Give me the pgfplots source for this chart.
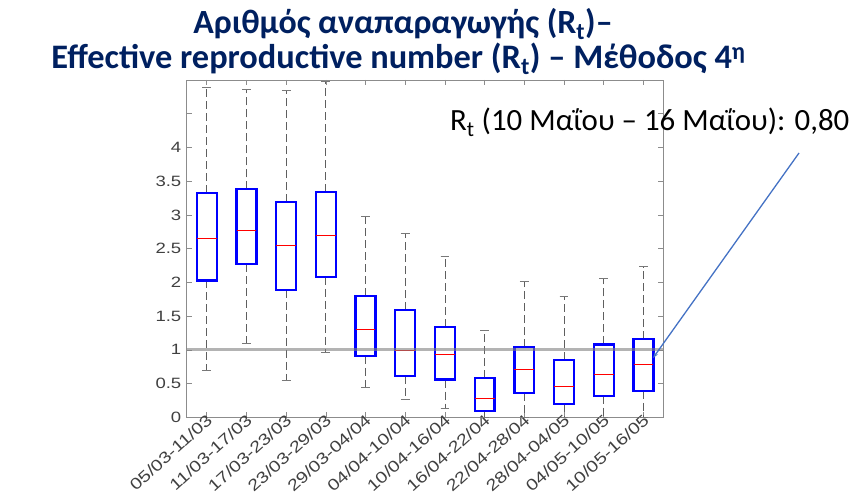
\documentclass[border=0pt]{standalone}
\usepackage{fontspec}
\setmainfont{Carlito}
\newfontfamily\tickfont[FakeStretch=1.24]{Liberation Sans}
\usepackage{pgfplots}
\pgfplotsset{compat=1.18}
\usepgfplotslibrary{statistics}
\usetikzlibrary{arrows.meta}
\definecolor{titleblue}{RGB}{0,32,96}
\definecolor{tickgray}{RGB}{64,64,64}
\definecolor{framegray}{RGB}{140,140,140}
\definecolor{whiskgray}{RGB}{95,95,95}
\definecolor{capgray}{RGB}{120,120,120}
\definecolor{arrowblue}{RGB}{68,114,196}
\pgfplotsset{
  boxplot/draw/whisker/.code 2 args={%
    \draw[/pgfplots/boxplot/every whisker/.try] (boxplot cs:#1) -- (boxplot cs:#2);
    \draw[capgray, line width=0.9bp]
      (boxplot whisker cs:\pgfplotsboxplotvalue{lower whisker},0) -- (boxplot whisker cs:\pgfplotsboxplotvalue{lower whisker},1)
      (boxplot whisker cs:\pgfplotsboxplotvalue{upper whisker},0) -- (boxplot whisker cs:\pgfplotsboxplotvalue{upper whisker},1);
  },
}
\begin{document}
\begin{tikzpicture}
\path[use as bounding box] (0bp,0bp) rectangle (858bp,494bp);
\begin{axis}[
  at={(186.5bp,76.7bp)}, anchor=south west,
  scale only axis, width=476.8bp, height=337.3bp,
  xmin=0.49, xmax=12.5, ymin=0, ymax=5,
  axis line style={framegray, line width=0.7bp},
  tick style={framegray, line width=0.6bp},
  tick align=inside, major tick length=5bp,
  xtick={1,...,12},
  xticklabels={05/03-11/03,11/03-17/03,17/03-23/03,23/03-29/03,29/03-04/04,04/04-10/04,10/04-16/04,16/04-22/04,22/04-28/04,28/04-04/05,04/05-10/05,10/05-16/05},
  ytick={0,0.5,...,5},
  yticklabels={0,0.5,1,1.5,2,2.5,3,3.5,4,{},{}},
  ticklabel style={font=\tickfont\fontsize{15}{16}\selectfont, text=tickgray},
  xticklabel style={font=\tickfont\fontsize{16}{17}\selectfont, rotate=42, anchor=east, inner sep=1bp, xshift=3bp, yshift=-2bp},
  yticklabel style={inner sep=2bp, xshift=-3bp},
  boxplot/draw direction=y,
  boxplot/box extend=0.5,
  boxplot/whisker extend=0.22,
  boxplot/every box/.style={draw=blue, line width=2.3bp},
  boxplot/every median/.style={draw=red, line width=1.1bp},
  boxplot/every whisker/.style={draw=whiskgray, line width=0.9bp, dash pattern=on 8bp off 4bp},
]
\addplot[boxplot prepared={draw position=1, lower whisker=0.69, lower quartile=2.03, median=2.65, upper quartile=3.33, upper whisker=4.89}] coordinates {};
\addplot[boxplot prepared={draw position=2, lower whisker=1.09, lower quartile=2.27, median=2.77, upper quartile=3.38, upper whisker=4.86}] coordinates {};
\addplot[boxplot prepared={draw position=3, lower whisker=0.55, lower quartile=1.89, median=2.55, upper quartile=3.19, upper whisker=4.84}] coordinates {};
\addplot[boxplot prepared={draw position=4, lower whisker=0.96, lower quartile=2.08, median=2.69, upper quartile=3.34, upper whisker=4.98}] coordinates {};
\addplot[boxplot prepared={draw position=5, lower whisker=0.44, lower quartile=0.91, median=1.30, upper quartile=1.80, upper whisker=2.97}] coordinates {};
\addplot[boxplot prepared={draw position=6, lower whisker=0.26, lower quartile=0.61, median=0.99, upper quartile=1.59, upper whisker=2.72}] coordinates {};
\addplot[boxplot prepared={draw position=7, lower whisker=0.13, lower quartile=0.56, median=0.93, upper quartile=1.34, upper whisker=2.39}] coordinates {};
\addplot[boxplot prepared={draw position=8, lower whisker=0.0, lower quartile=0.09, median=0.28, upper quartile=0.58, upper whisker=1.29}] coordinates {};
\addplot[boxplot prepared={draw position=9, lower whisker=0.0, lower quartile=0.36, median=0.71, upper quartile=1.04, upper whisker=2.01}] coordinates {};
\addplot[boxplot prepared={draw position=10, lower whisker=0.0, lower quartile=0.20, median=0.45, upper quartile=0.85, upper whisker=1.79}] coordinates {};
\addplot[boxplot prepared={draw position=11, lower whisker=0.0, lower quartile=0.32, median=0.63, upper quartile=1.08, upper whisker=2.06}] coordinates {};
\addplot[boxplot prepared={draw position=12, lower whisker=0.0, lower quartile=0.39, median=0.78, upper quartile=1.16, upper whisker=2.23}] coordinates {};
\addplot[gray, opacity=0.6, line width=3bp] coordinates {(0.49,1) (12.5,1)};
\end{axis}
\node[anchor=base, text=titleblue, font=\bfseries\fontsize{34}{38}\selectfont] at (403bp,460.7bp) {Αριθμός αναπαραγωγής (R\textsubscript{t})–};
\node[anchor=base, text=titleblue, font=\bfseries\fontsize{34.5}{38}\selectfont] at (398.5bp,425.7bp) {Effective reproductive number (R\textsubscript{t}) – Μέθοδος 4\textsuperscript{η}};
\node[anchor=base west, inner sep=0pt, font=\fontsize{31}{36}\selectfont] at (450bp,363bp) {R\textsubscript{t} (10 Μαΐου – 16 Μαΐου): 0,80};
\draw[arrowblue, line width=1.3bp, -{Stealth[length=6bp,width=4bp]}] (799bp,341bp) -- (653bp,136bp);
\end{tikzpicture}
\end{document}
